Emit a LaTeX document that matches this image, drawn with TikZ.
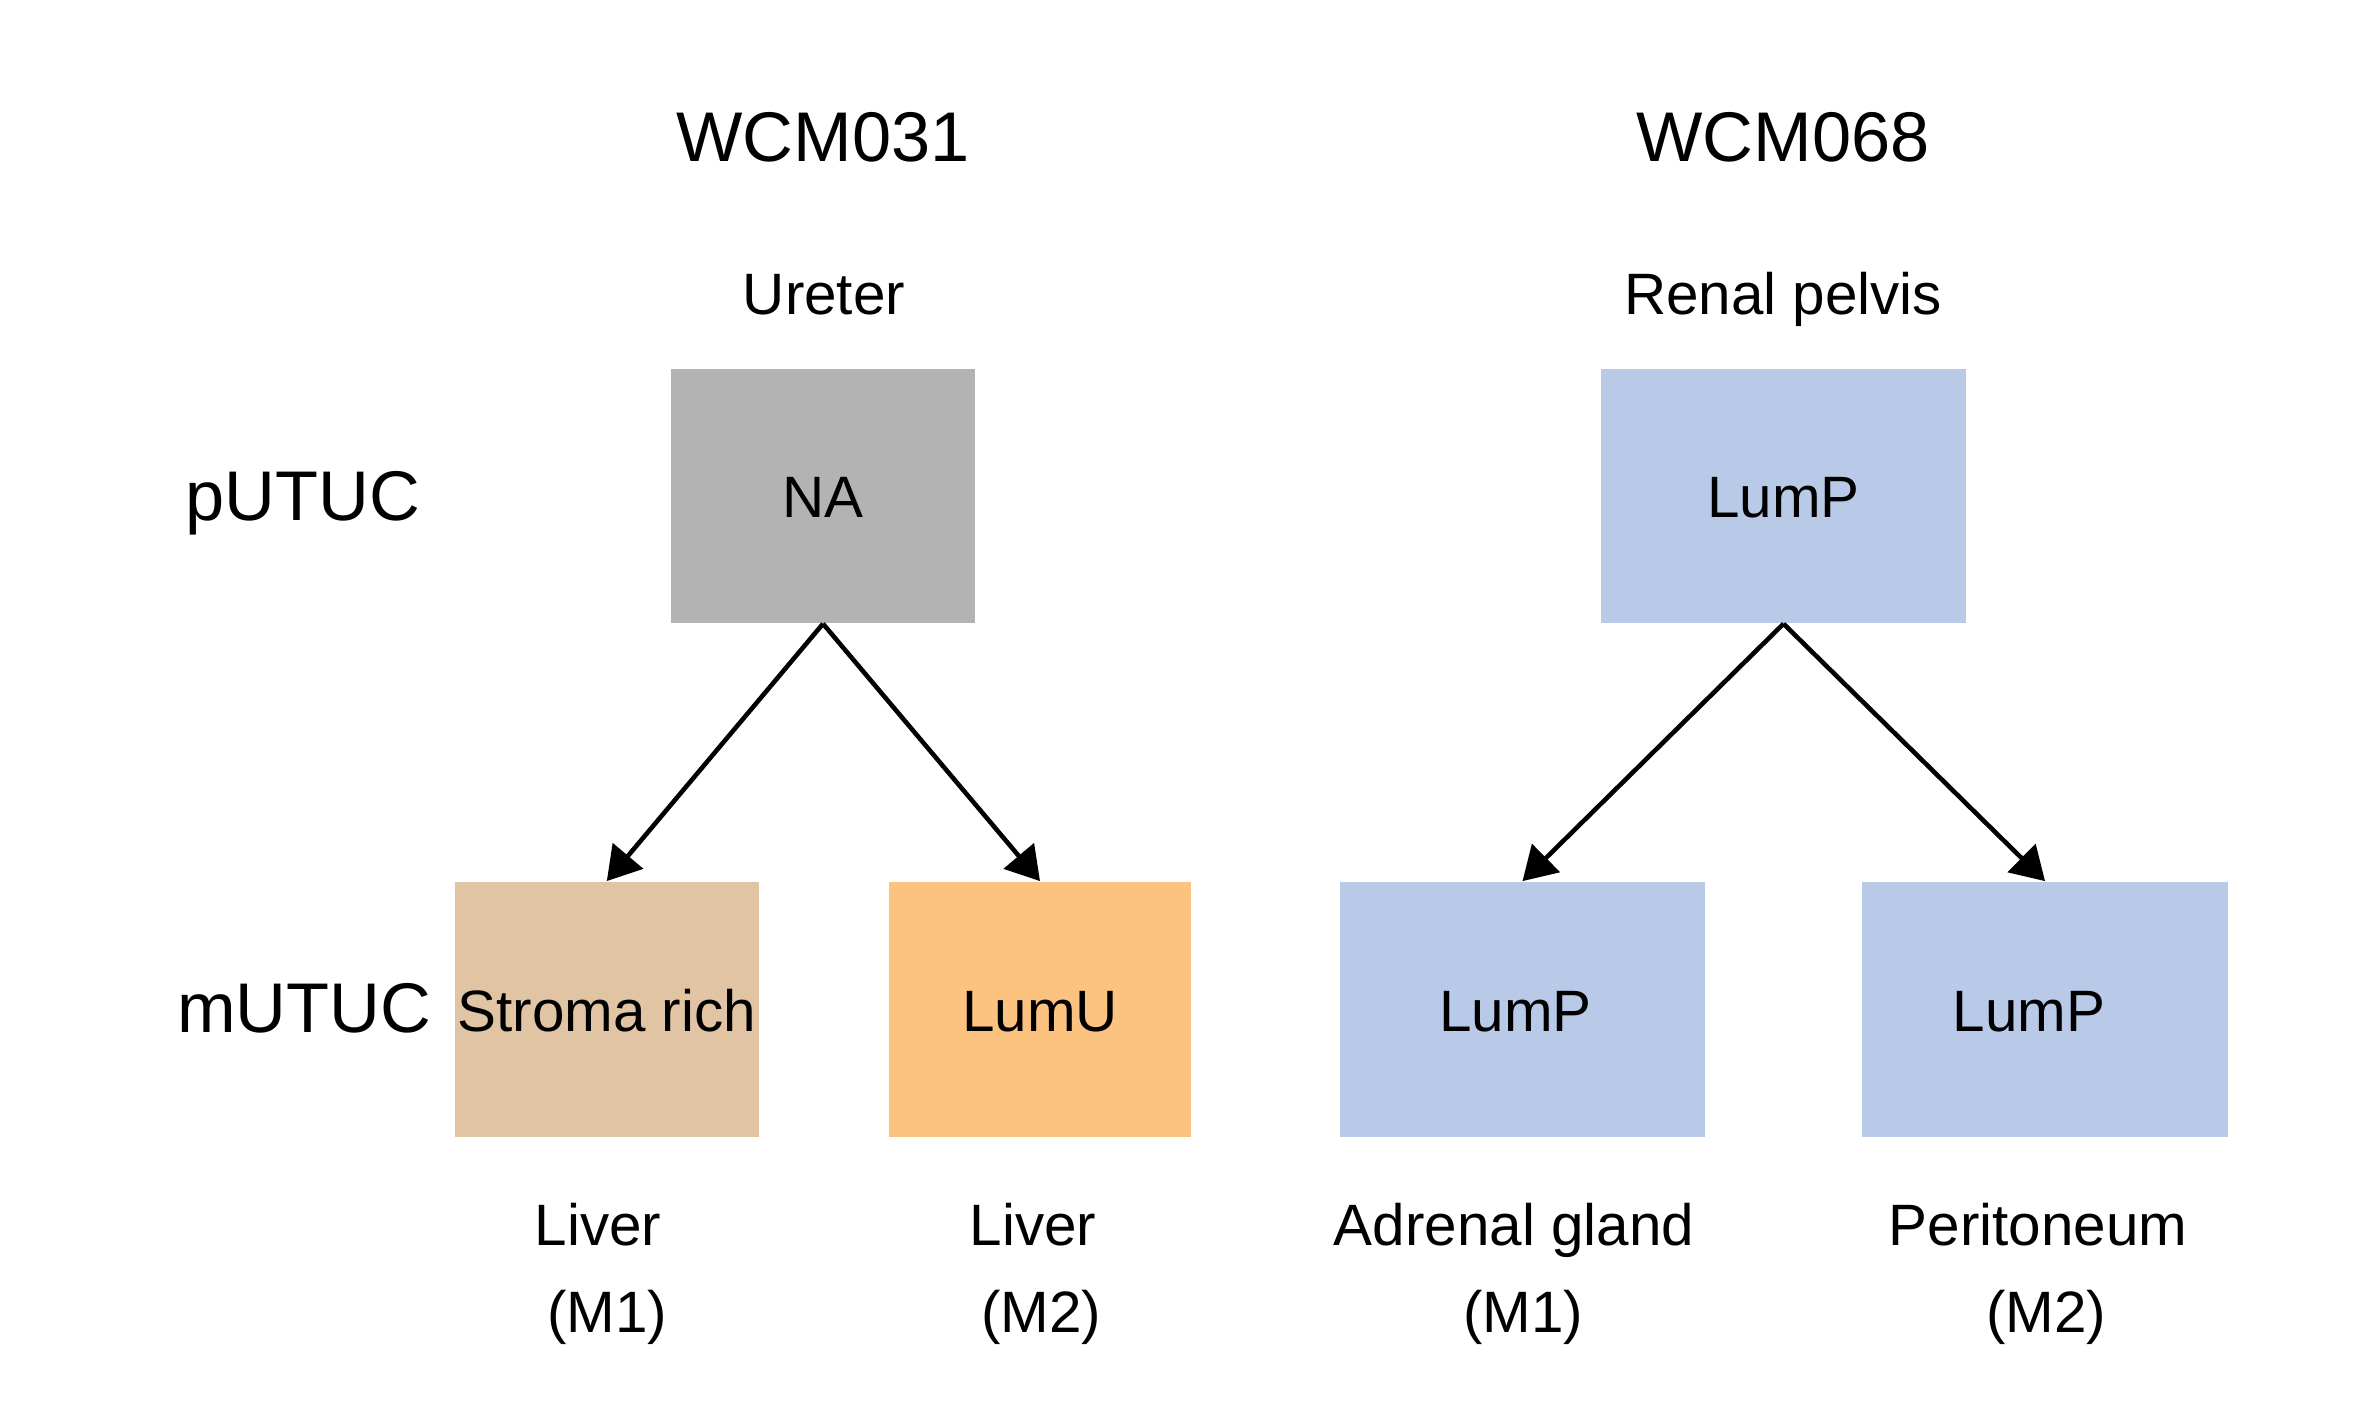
\documentclass[tikz,border=0pt]{standalone}
\usepackage{fontspec}
\setmainfont{Liberation Sans}
\usetikzlibrary{arrows.meta}
\definecolor{grayNA}{RGB}{179,179,179}
\definecolor{lumP}{RGB}{185,202,233}
\definecolor{stroma}{RGB}{224,196,164}
\definecolor{lumU}{RGB}{251,194,128}
\begin{document}
\begin{tikzpicture}[x=0.01cm,y=-0.01cm,
  txt/.style={inner sep=0pt,text height=0.72em+0.18cm,text depth=0pt,anchor=center},
  big/.style={txt,font=\fontsize{20pt}{24pt}\selectfont},
  lab/.style={txt,font=\fontsize{16.6pt}{20pt}\selectfont},
  box/.style={lab,minimum height=2.54cm},
  arr/.style={line width=1.3pt,-{Triangle[length=0.33cm,width=0.39cm]}}
]
\useasboundingbox (0,0) rectangle (2355,1404);
% titles
\node[big] (t1) at (823,140) {WCM031};
\node[big] (t2) at (1783,140) {WCM068};
\node[lab] (s1) at (824,293) {Ureter};
\node[lab] (s2) at (1783,293) {Renal pelvis};
\node[big] (pu) at (303,499) {pUTUC};
\node[big] (mu) at (304,1011) {mUTUC};
% boxes
\node[box,fill=grayNA,minimum width=3.034cm] (na) at (823,496) {NA};
\node[box,fill=lumP,minimum width=3.65cm] (lp) at (1783.5,496) {LumP};
\node[box,fill=stroma,minimum width=3.035cm,minimum height=2.55cm] (sr) at (606.8,1009.4) {Stroma rich};
\node[box,fill=lumU,minimum width=3.02cm,minimum height=2.55cm] (lu) at (1040,1009.4) {LumU};
\node[box,fill=lumP,minimum width=3.65cm,minimum height=2.55cm] (m1) at (1522.5,1009.4) {\hspace*{-0.14cm}LumP};
\node[box,fill=lumP,minimum width=3.65cm,minimum height=2.55cm] (m2) at (2045,1009.4) {\hspace*{-0.32cm}LumP};
% site labels
\node[lab] (l1) at (598,1224) {Liver};
\node[lab] (k1) at (607,1311) {(M1)};
\node[lab] (l2) at (1033,1224) {Liver};
\node[lab] (k2) at (1041,1311) {(M2)};
\node[lab] (l3) at (1514,1224) {Adrenal gland};
\node[lab] (k3) at (1523,1311) {(M1)};
\node[lab] (l4) at (2038,1224) {Peritoneum};
\node[lab] (k4) at (2046,1311) {(M2)};
% arrows
\draw[arr] (na.south) -- (sr.north);
\draw[arr] (na.south) -- (lu.north);
\draw[arr] (lp.south) -- (m1.north);
\draw[arr] (lp.south) -- (m2.north);
\end{tikzpicture}
\end{document}
